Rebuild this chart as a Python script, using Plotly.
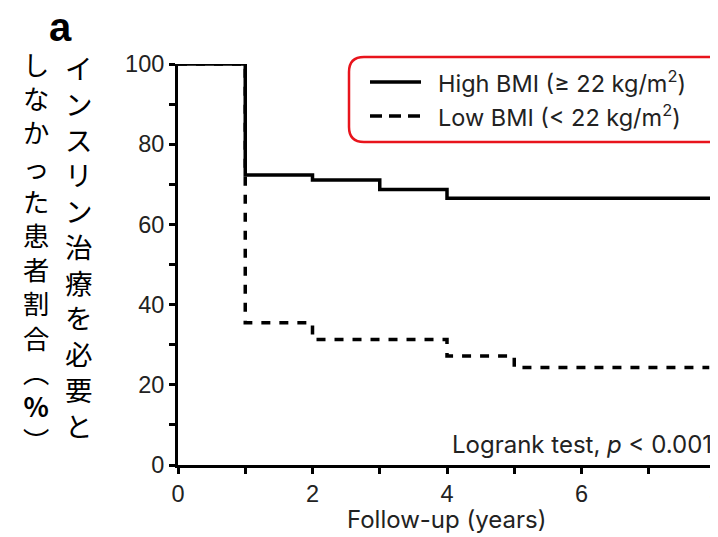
import plotly.graph_objects as go

# ---- data ----
high_time = [0, 1, 2, 3, 4, 8]
high_pct = [100, 72.3, 71.1, 68.7, 66.5, 62.0]
low_time = [0, 1, 2, 4, 5, 7.9]
low_pct = [100, 35.5, 31.3, 27.2, 24.3, 24.3]

high_label = "High BMI (≥ 22 kg/m<sup>2</sup>)"
low_label = "Low BMI (< 22 kg/m<sup>2</sup>)"
x_ticks = [0, 2, 4, 6, 8]
y_ticks = [0, 20, 40, 60, 80, 100]
ylab_col1 = "インスリン治療を必要と"
ylab_col2 = ["し", "な", "か", "っ", "た", "患", "者", "割", "合", "︵", "<b>%</b>", "︶"]

# figure is placed at (8, 8) inside the page (default body margin)
OFF = 8
W, H = 718 - OFF, 537 - OFF
L, R, T, B = 178 - OFF, 2, 64 - OFF, 72
PW, PH = W - L - R, H - T - B

def px(xp):  # page pixel -> paper x
    return (xp - OFF - L) / PW

def py(yp):  # page pixel -> paper y
    return (H - B - (yp - OFF)) / PH

LATIN = "Liberation Sans, Arial, sans-serif"
WIDE = "Inter, DejaVu Sans, sans-serif"
CJK = "Noto Sans CJK JP, sans-serif"
TXT = "#222"

fig = go.Figure()
fig.add_trace(go.Scatter(x=low_time, y=low_pct, mode="lines", line_shape="hv",
                         line=dict(color="black", width=3.5, dash="9px,9px"),
                         cliponaxis=False, showlegend=False, name="Low BMI"))
fig.add_trace(go.Scatter(x=high_time, y=high_pct, mode="lines", line_shape="hv",
                         line=dict(color="black", width=3.5),
                         cliponaxis=False, showlegend=False, name="High BMI"))

axis_common = dict(showgrid=False, zeroline=False, showline=True, linecolor="black",
                   linewidth=3, ticks="outside", ticklen=6, tickwidth=2.5,
                   tickcolor="black", ticklabeloverflow="allow", automargin=False,
                   tickfont=dict(family=LATIN, size=23.5, color=TXT))
fig.update_xaxes(range=[0, 8], tickvals=x_ticks,
                 minor=dict(dtick=1, ticks="outside", ticklen=6, tickwidth=2.5,
                            tickcolor="black", showgrid=False),
                 **axis_common)
fig.update_yaxes(range=[0, 100], tickvals=y_ticks,
                 minor=dict(dtick=10, ticks="outside", ticklen=6, tickwidth=2.5,
                            tickcolor="black", showgrid=False),
                 **axis_common)

shapes = []
# rounded legend frame
x0, x1 = px(349), px(724)
y0, y1 = py(142), py(57)
rx, ry = 15 / PW, 15 / PH
path = (f"M {x0+rx},{y1} L {x1-rx},{y1} Q {x1},{y1} {x1},{y1-ry} "
        f"L {x1},{y0+ry} Q {x1},{y0} {x1-rx},{y0} L {x0+rx},{y0} "
        f"Q {x0},{y0} {x0},{y0+ry} L {x0},{y1-ry} Q {x0},{y1} {x0+rx},{y1} Z")
shapes.append(dict(type="path", xref="paper", yref="paper", path=path,
                   line=dict(color="#e8141c", width=2.5), fillcolor="rgba(0,0,0,0)"))
shapes.append(dict(type="line", xref="paper", yref="paper", x0=px(370), x1=px(421),
                   y0=py(82), y1=py(82), line=dict(color="black", width=3.5)))
shapes.append(dict(type="line", xref="paper", yref="paper", x0=px(370), x1=px(421),
                   y0=py(116), y1=py(116), line=dict(color="black", width=3.5, dash="12px,7px")))

ann = []
ann.append(dict(text=high_label, xref="paper", yref="paper", x=px(436), y=py(82),
                xanchor="left", yanchor="middle", showarrow=False,
                font=dict(family=WIDE, size=23.5, color=TXT)))
ann.append(dict(text=low_label, xref="paper", yref="paper", x=px(436), y=py(116),
                xanchor="left", yanchor="middle", showarrow=False,
                font=dict(family=WIDE, size=23.5, color=TXT)))
ann.append(dict(text="Logrank test, <i>p</i> < 0.001", xref="paper", yref="paper",
                x=px(714), y=py(444), xanchor="right", yanchor="middle", showarrow=False,
                font=dict(family=WIDE, size=24, color=TXT)))
ann.append(dict(text="Follow-up (years)", xref="paper", yref="paper",
                x=px(446), y=py(519), xanchor="center", yanchor="middle", showarrow=False,
                font=dict(family=WIDE, size=24, color=TXT)))
ann.append(dict(text="<b>a</b>", xref="paper", yref="paper",
                x=px(60), y=py(27), xanchor="center", yanchor="middle", showarrow=False,
                font=dict(family=LATIN, size=40, color="black")))
ann.append(dict(text="<br>".join(list(ylab_col1)), xref="paper", yref="paper",
                x=px(79), y=py(45), xanchor="center", yanchor="top", showarrow=False,
                font=dict(family=CJK, size=27.5, color="black")))
ann.append(dict(text="<br>".join(ylab_col2), xref="paper", yref="paper",
                x=px(36), y=py(42), xanchor="center", yanchor="top", showarrow=False,
                font=dict(family=CJK, size=26.3, color="black")))

fig.update_layout(width=W, height=H, margin=dict(l=L, r=R, t=T, b=B),
                  plot_bgcolor="white", paper_bgcolor="white",
                  shapes=shapes, annotations=ann, showlegend=False)
fig.write_html("out.html")
